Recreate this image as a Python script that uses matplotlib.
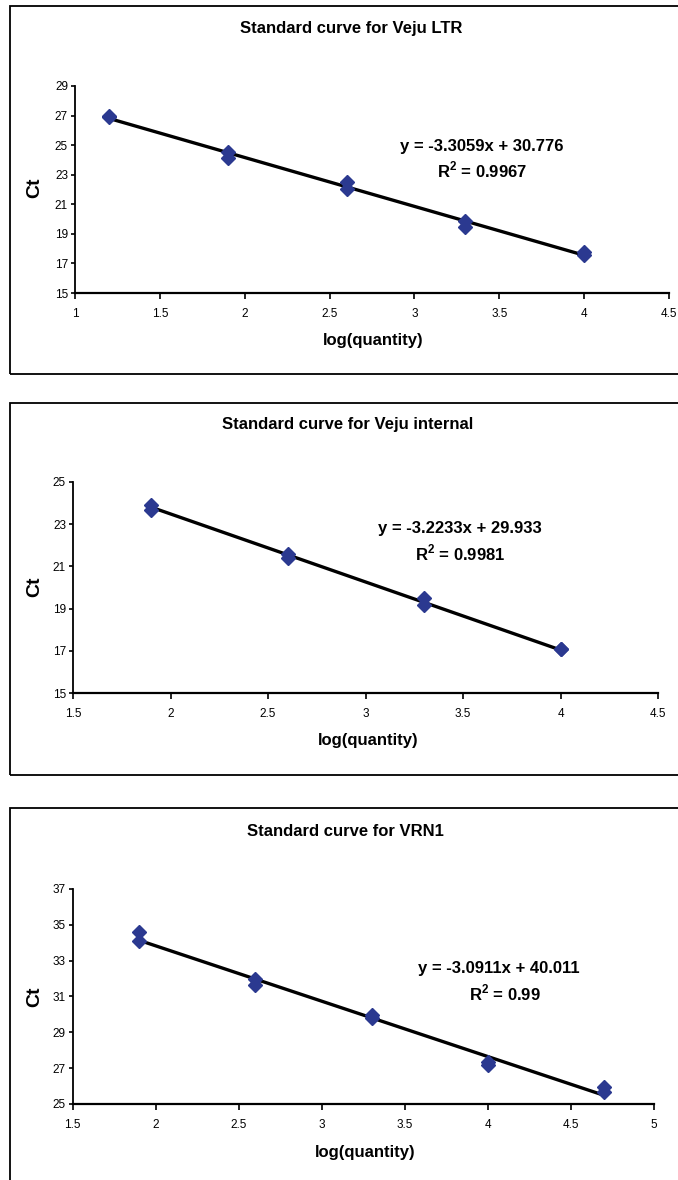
'''
Standard curves (Ct vs log quantity) for Veju LTR, Veju internal and VRN1
'''
import numpy as np
import matplotlib as mpl
mpl.use('Agg')
from matplotlib import pyplot as plt
from matplotlib.patches import Rectangle

plt.rcParams['font.family'] = ['Liberation Sans', 'DejaVu Sans']
plt.rcParams['mathtext.fontset'] = 'custom'
plt.rcParams['mathtext.rm'] = 'Liberation Sans:bold'
plt.rcParams['mathtext.bf'] = 'Liberation Sans:bold'

# data
titles = ['Standard curve for Veju LTR', 'Standard curve for Veju internal',
          'Standard curve for VRN1']

ltr_x = [1.2, 1.2, 1.9, 1.9, 2.6, 2.6, 3.3, 3.3, 4.0, 4.0]
ltr_ct = [27.0, 26.9, 24.55, 24.15, 22.5, 22.0, 19.86, 19.45, 17.77, 17.57]

internal_x = [1.9, 1.9, 2.6, 2.6, 3.3, 3.3, 4.0, 4.0]
internal_ct = [23.92, 23.65, 21.57, 21.38, 19.49, 19.18, 17.1, 17.08]

vrn1_x = [1.9, 1.9, 2.6, 2.6, 3.3, 3.3, 4.0, 4.0, 4.7, 4.7]
vrn1_ct = [34.6, 34.12, 32.0, 31.62, 29.96, 29.78, 27.35, 27.15, 25.95, 25.65]

slopes = [-3.3059, -3.2233, -3.0911]
intercepts = [30.776, 29.933, 40.011]
r2_labels = ['0.9967', '0.9981', '0.99']

xlims = [(1, 4.5), (1.5, 4.5), (1.5, 5)]
ylims = [(15, 29), (15, 25), (25, 37)]

# layout in pixels of the 678x1180 picture
W, H = 678, 1180
axes_px = [(75, 669, 86, 293), (73, 658, 482, 693), (72.6, 654, 889, 1104)]
box_px = [(10, 6, 374), (10, 403, 775), (10, 808, 1200)]
title_px = [(351, 28), (348, 425), (345, 832)]
xlabel_px = [(373, 340), (368, 740), (365, 1153)]
ylabel_px = [(35, 188), (35, 587), (35, 997)]
eq_px = [(482, 146, 482, 170), (460, 528, 460, 553), (499, 969, 505, 993)]

series = [(ltr_x, ltr_ct), (internal_x, internal_ct), (vrn1_x, vrn1_ct)]

fig = plt.figure(figsize=(W / 100, H / 100), dpi=100)

def fx(px):
    return px / W

def fy(py):
    return 1 - py / H

for i, (xs, ys) in enumerate(series):
    l, r, t, b = axes_px[i]
    ax = fig.add_axes([fx(l), fy(b), fx(r) - fx(l), fy(t) - fy(b)])
    ax.set_xlim(*xlims[i])
    ax.set_ylim(*ylims[i])
    ax.set_xticks(np.arange(xlims[i][0], xlims[i][1] + 0.01, 0.5))
    ax.set_yticks(np.arange(ylims[i][0], ylims[i][1] + 0.01, 2))
    ax.xaxis.set_major_formatter(plt.FuncFormatter(lambda v, p: ('%g' % v)))
    ax.spines['top'].set_visible(False)
    ax.spines['right'].set_visible(False)
    ax.spines['left'].set_linewidth(1.3)
    ax.spines['bottom'].set_linewidth(1.6)
    ax.tick_params(axis='x', direction='out', length=4, width=1.2, labelsize=8.5, pad=7)
    ax.tick_params(axis='y', direction='out', length=3, width=1.2, labelsize=8.5, pad=2)
    ax.patch.set_alpha(0)

    xs = np.array(xs)
    line_x = np.array([xs.min(), xs.max()])
    ax.plot(line_x, slopes[i] * line_x + intercepts[i], color='black', lw=2.4, zorder=2)
    ax.plot(xs, ys, linestyle='none', marker='D', markersize=7,
            color='#2b3990', zorder=3)

    # border box
    bl, bt, bb = box_px[i]
    fig.add_artist(Rectangle((fx(bl), fy(bb)), 1.2, fy(bt) - fy(bb),
                             transform=fig.transFigure, fill=False,
                             edgecolor='black', lw=1.3))

    tx, ty = title_px[i]
    fig.text(fx(tx), fy(ty), titles[i], ha='center', va='center',
             fontsize=12, fontweight='bold')
    lx, ly = xlabel_px[i]
    fig.text(fx(lx), fy(ly), 'log(quantity)', ha='center', va='center',
             fontsize=12, fontweight='bold')
    cx, cy = ylabel_px[i]
    fig.text(fx(cx), fy(cy), 'Ct', ha='center', va='center', rotation=90,
             fontsize=14, fontweight='bold')
    ex, ey, rx, ry = eq_px[i]
    fig.text(fx(ex), fy(ey), 'y = %gx + %g' % (slopes[i], intercepts[i]),
             ha='center', va='center', fontsize=12, fontweight='bold')
    fig.text(fx(rx), fy(ry), 'R$^{\\mathbf{2}}$ = ' + r2_labels[i], ha='center', va='center',
             fontsize=12, fontweight='bold')

plt.savefig('out.png', dpi=100)
